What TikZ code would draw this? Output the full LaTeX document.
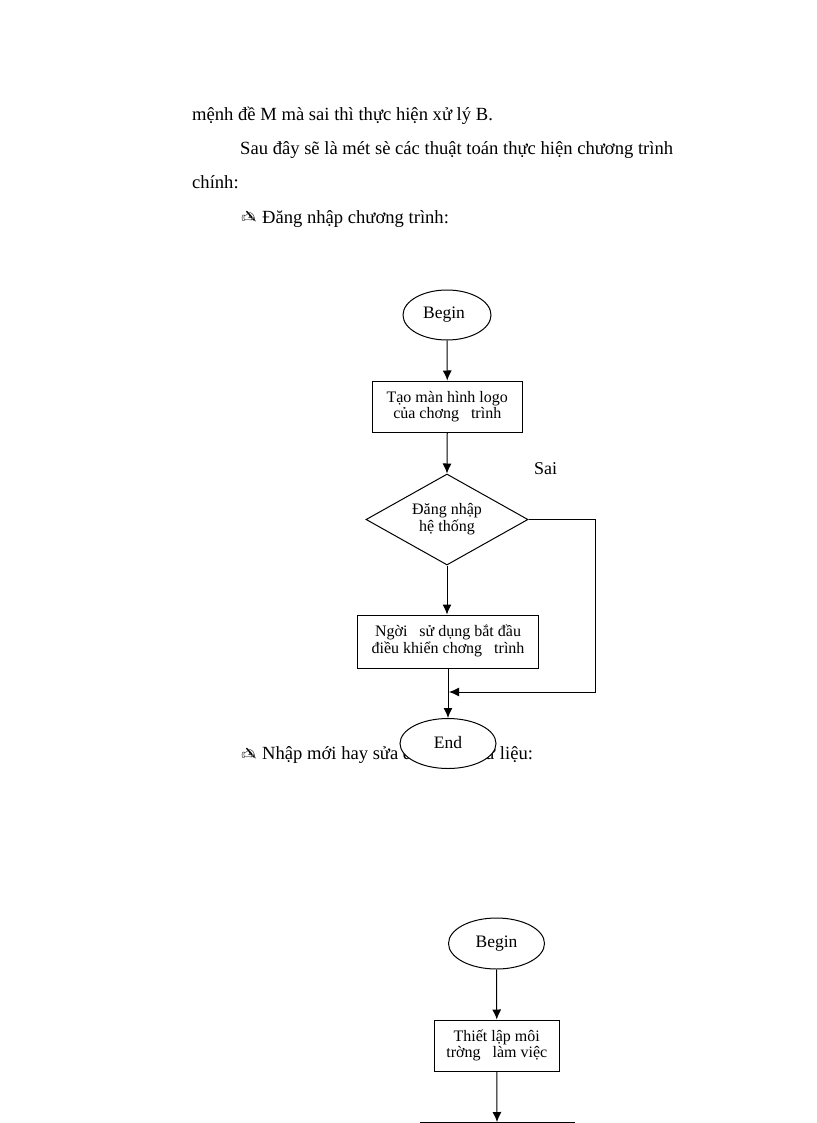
\documentclass[tikz,border=0pt]{standalone}
\usepackage{fontspec}
\setmainfont{Liberation Serif}
\newfontfamily\symfont{DejaVu Sans}
\usetikzlibrary{shapes.geometric,arrows.meta}
\tikzset{
  para/.style={anchor=base west,inner sep=0pt,font=\fontsize{18.6}{22}\selectfont},
  flowtext/.style={font=\fontsize{16}{16}\selectfont,align=center,inner sep=0pt},
  terminal/.style={font=\fontsize{17.5}{18}\selectfont,align=center,inner sep=0pt,draw,ellipse,fill=white,line width=1pt},
  stepbox/.style={flowtext,draw,rectangle,fill=white,line width=1pt},
  choice/.style={flowtext,draw,diamond,shape aspect=1.78,fill=white,line width=1pt},
  link/.style={line width=1pt,-{Latex[length=10pt,width=9pt]}},
}
\newcommand{\pen}{\makebox[21pt][l]{\raisebox{-1pt}{\reflectbox{\symfont\fontsize{18}{18}\selectfont ✍}}}}
\begin{document}
\begin{tikzpicture}[x=1pt,y=-1pt]
\useasboundingbox (0,0) rectangle (816,1123);
\clip (0,0) rectangle (816,1123);
\fill[white] (0,0) rectangle (816,1123);
% body text
\node[para] (t1) at (192,121) {mệnh đề M mà sai thì thực hiện xử lý B.};
\node[para] (t2) at (240,155) {Sau đây sẽ là mét sè các thuật toán thực hiện chương trình};
\node[para] (t3) at (192,189) {chính:};
\node[para] (t4) at (241,223) {\pen Đăng nhập chương trình:};
\node[para] (t5) at (241,759) {\pen Nhập mới hay sửa đổi cơ sở dữ liệu:};
\node[para,font=\fontsize{18}{20}\selectfont] (sai) at (534,474) {Sai};
% first flowchart
\node[terminal,minimum width=88pt,minimum height=50pt] (b1) at (447,315) {\hspace*{-6pt}\raisebox{3pt}{Begin}};
\node[stepbox,minimum width=149.5pt,minimum height=51pt] (s1) at (447.25,406.5) {\raisebox{1pt}{\shortstack{Tạo màn hình logo\\[-1pt]của chơng\ \ \ trình}}};
\node[choice,minimum width=162pt,minimum height=91pt] (d1) at (447,519.5) {\raisebox{-1.5pt}{\shortstack{Đăng nhập\\[-1pt]hệ thống}}};
\node[stepbox,minimum width=180.5pt,minimum height=53pt] (s2) at (448,641.5) {\raisebox{4pt}{\shortstack{Ngời\ \ \ sử dụng bắt đầu\\[-1pt]điều khiển chơng\ \ \ trình}}};
\coordinate (turnA) at (595,519.5);
\coordinate (turnB) at (595,692);
\coordinate (join) at (449,692);
\node[terminal,minimum width=96pt,minimum height=50pt] (e1) at (448,743.5) {\raisebox{3pt}{End}};
\draw[link] (b1.south) -- (s1.north);
\draw[link] (s1.south) -- (d1.north);
\draw[link] (d1.south) -- (s2.north -| d1.south);
\draw[link] (s2.south) -- (e1.north);
\draw[link] (d1.east) -- (turnA) -- (turnB) -- (join);
% second flowchart
\node[terminal,minimum width=96pt,minimum height=51pt] (b2) at (496.5,943.5) {\raisebox{3pt}{Begin}};
\node[stepbox,minimum width=124.5pt,minimum height=51pt] (s3) at (496.75,1045.5) {\raisebox{1.5pt}{\shortstack{Thiết lập môi\\[-1pt]trờng\ \ \ làm việc}}};
\node[stepbox,minimum width=154pt,minimum height=60pt,anchor=north] (s4) at (497,1122) {};
\draw[link] (b2.south) -- (s3.north);
\draw[link] (s3.south) -- (s4.north);
\end{tikzpicture}
\end{document}
